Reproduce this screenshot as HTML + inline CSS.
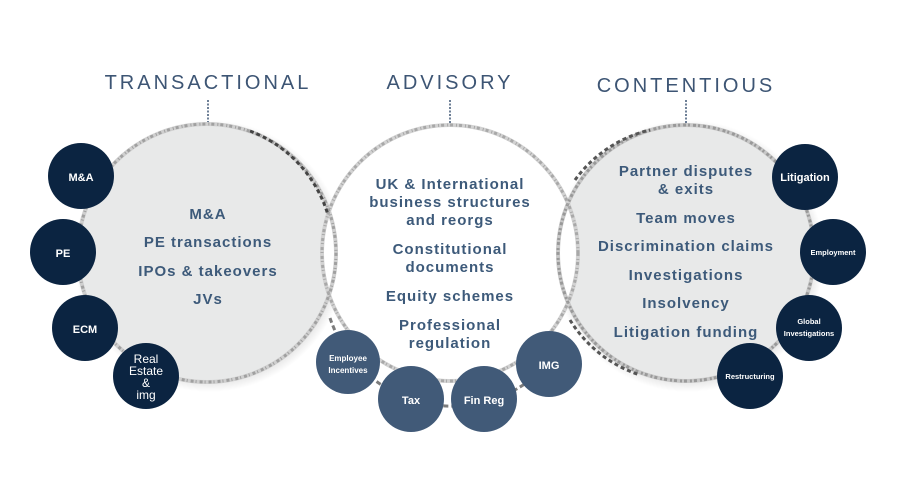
<!DOCTYPE html>
<html><head><meta charset="utf-8"><style>
html,body{margin:0;padding:0;background:#fff;}
svg{display:block;}
.h{font-family:"Liberation Sans",sans-serif;font-size:20px;fill:#3d5574;letter-spacing:3px;text-anchor:middle;}
.t{font-family:"Liberation Sans",sans-serif;font-size:15px;fill:#3d5a7a;letter-spacing:1px;text-anchor:middle;font-weight:bold;}
.s{font-family:"Liberation Sans",sans-serif;fill:#fff;text-anchor:middle;font-weight:bold;}
</style></head><body>
<svg width="900" height="486" viewBox="0 0 900 486">
<defs>
<radialGradient id="sh" cx="50%" cy="50%" r="50%">
<stop offset="90%" stop-color="#000" stop-opacity="0.12"/><stop offset="100%" stop-color="#000" stop-opacity="0"/>
</radialGradient>
</defs>
<text class="h" x="208" y="89">TRANSACTIONAL</text>
<text class="h" x="450" y="89">ADVISORY</text>
<text class="h" x="686" y="92">CONTENTIOUS</text>
<line x1="208" y1="100" x2="208" y2="152" stroke="#3d5574" stroke-width="1.5" stroke-dasharray="2,1.5"/>
<line x1="450" y1="100" x2="450" y2="152" stroke="#3d5574" stroke-width="1.5" stroke-dasharray="2,1.5"/>
<line x1="686" y1="100" x2="686" y2="152" stroke="#3d5574" stroke-width="1.5" stroke-dasharray="2,1.5"/>

<circle cx="210" cy="256" r="136" fill="url(#sh)"/>
<circle cx="688" cy="256" r="136" fill="url(#sh)"/>
<circle cx="207" cy="253" r="130" fill="#e8e9e9"/>
<circle cx="686" cy="253" r="129" fill="#e8e9e9"/>
<circle cx="450" cy="253" r="128" fill="#fff"/>
<circle cx="207" cy="253" r="129" fill="none" stroke="#cfcfcf" stroke-width="4"/>
<circle cx="686" cy="253" r="128" fill="none" stroke="#c8c8c8" stroke-width="4"/>
<circle cx="450" cy="253" r="128" fill="none" stroke="#d2d2d2" stroke-width="4"/>
<circle cx="207" cy="253" r="129" fill="none" stroke="#a0a0a0" stroke-width="3" stroke-dasharray="3,3,1,2"/>
<circle cx="686" cy="253" r="128" fill="none" stroke="#999" stroke-width="3" stroke-dasharray="3,2,2,3"/>
<circle cx="450" cy="253" r="128" fill="none" stroke="#a8a8a8" stroke-width="3" stroke-dasharray="3,3,1,2"/>
<path d="M250 131 A129 129 0 0 1 328 215" fill="none" stroke="#444" stroke-width="3" stroke-dasharray="4,3"/>
<path d="M330 318 A129 129 0 0 0 565 340" fill="none" stroke="#444" stroke-width="3" stroke-dasharray="5,3" opacity="0.7"/>
<path d="M575 180 A129 129 0 0 1 650 130" fill="none" stroke="#555" stroke-width="3" stroke-dasharray="4,3"/>
<path d="M570 320 A129 129 0 0 0 640 375" fill="none" stroke="#555" stroke-width="3" stroke-dasharray="4,3"/>

<text class="t" x="208" y="219">M&amp;A</text>
<text class="t" x="208" y="247">PE transactions</text>
<text class="t" x="208" y="276">IPOs &amp; takeovers</text>
<text class="t" x="208" y="304">JVs</text>

<text class="t" x="450" y="189">UK &amp; International</text>
<text class="t" x="450" y="207">business structures</text>
<text class="t" x="450" y="225">and reorgs</text>
<text class="t" x="450" y="254">Constitutional</text>
<text class="t" x="450" y="272">documents</text>
<text class="t" x="450" y="301">Equity schemes</text>
<text class="t" x="450" y="330">Professional</text>
<text class="t" x="450" y="348">regulation</text>

<text class="t" x="686" y="176">Partner disputes</text>
<text class="t" x="686" y="194">&amp; exits</text>
<text class="t" x="686" y="223">Team moves</text>
<text class="t" x="686" y="251">Discrimination claims</text>
<text class="t" x="686" y="280">Investigations</text>
<text class="t" x="686" y="308">Insolvency</text>
<text class="t" x="686" y="337">Litigation funding</text>

<g fill="#0b2441">
<circle cx="81" cy="176" r="33"/><circle cx="63" cy="252" r="33"/><circle cx="85" cy="328" r="33"/><circle cx="146" cy="376" r="33"/>
<circle cx="805" cy="177" r="33"/><circle cx="833" cy="252" r="33"/><circle cx="809" cy="328" r="33"/><circle cx="750" cy="376" r="33"/>
</g>
<g fill="#415a78">
<circle cx="348" cy="362" r="32"/><circle cx="411" cy="399" r="33"/><circle cx="484" cy="399" r="33"/><circle cx="549" cy="364" r="33"/>
</g>
<text class="s" x="81" y="181" font-size="11">M&amp;A</text>
<text class="s" x="63" y="257" font-size="11">PE</text>
<text class="s" x="85" y="333" font-size="11">ECM</text>
<text class="s" x="146" y="363" font-size="12" font-weight="normal" style="font-weight:normal">Real</text>
<text class="s" x="146" y="375" font-size="12" style="font-weight:normal">Estate</text>
<text class="s" x="146" y="387" font-size="12" style="font-weight:normal">&amp;</text>
<text class="s" x="146" y="399" font-size="12" style="font-weight:normal">img</text>
<text class="s" x="348" y="361" font-size="8">Employee</text>
<text class="s" x="348" y="373" font-size="8">Incentives</text>
<text class="s" x="411" y="404" font-size="11">Tax</text>
<text class="s" x="484" y="404" font-size="11">Fin Reg</text>
<text class="s" x="549" y="369" font-size="11">IMG</text>
<text class="s" x="805" y="181" font-size="11">Litigation</text>
<text class="s" x="833" y="255" font-size="7.5">Employment</text>
<text class="s" x="809" y="324" font-size="7.5">Global</text>
<text class="s" x="809" y="336" font-size="7.5">Investigations</text>
<text class="s" x="750" y="379" font-size="7.5">Restructuring</text>
</svg>
</body></html>
